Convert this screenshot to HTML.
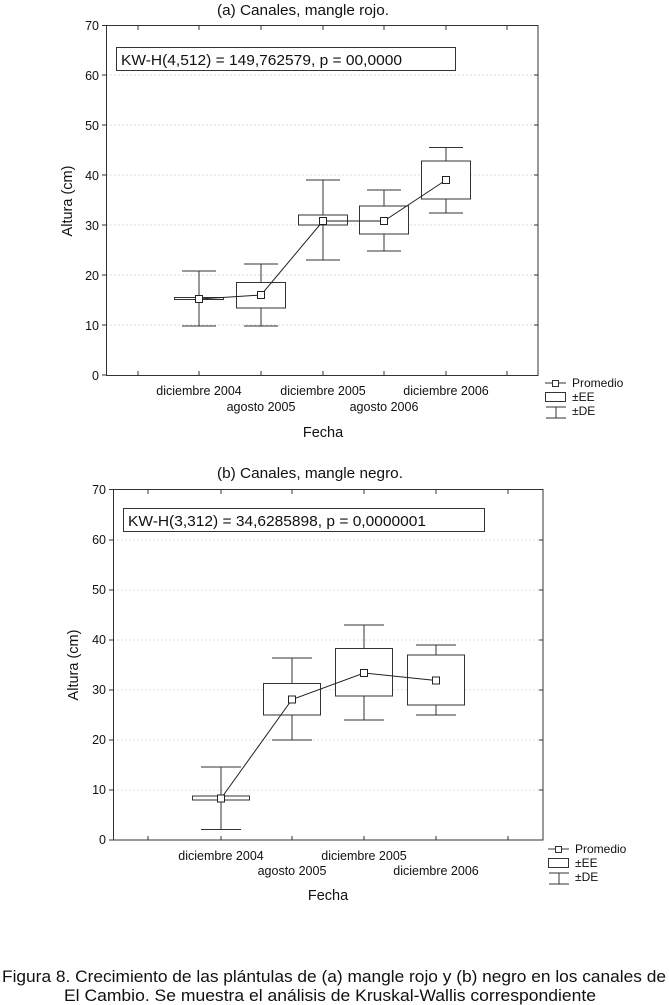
<!DOCTYPE html>
<html><head><meta charset="utf-8"><style>
html,body{margin:0;padding:0;background:#fff;}
svg{display:block;}
text{font-family:"Liberation Sans",Arial,sans-serif;fill:#111;}
</style></head><body>
<svg width="669" height="1005" viewBox="0 0 669 1005" xmlns="http://www.w3.org/2000/svg">
<!-- ===== Chart A ===== -->
<text x="217" y="15" font-size="14.5" textLength="172" lengthAdjust="spacingAndGlyphs">(a) Canales, mangle rojo.</text>
<g stroke="#ddd" stroke-dasharray="2,2" stroke-width="1">
<line x1="106" x2="538" y1="75" y2="75"/><line x1="106" x2="538" y1="125" y2="125"/><line x1="106" x2="538" y1="175" y2="175"/><line x1="106" x2="538" y1="225" y2="225"/><line x1="106" x2="538" y1="275" y2="275"/><line x1="106" x2="538" y1="325" y2="325"/>
</g>
<rect x="106.5" y="25.5" width="431.5" height="350" fill="none" stroke="#333" stroke-width="1"/>
<g stroke="#333" stroke-width="1">
<line x1="102" x2="106" y1="25.5" y2="25.5"/><line x1="102" x2="106" y1="75" y2="75"/><line x1="102" x2="106" y1="125" y2="125"/><line x1="102" x2="106" y1="175" y2="175"/><line x1="102" x2="106" y1="225" y2="225"/><line x1="102" x2="106" y1="275" y2="275"/><line x1="102" x2="106" y1="325" y2="325"/><line x1="102" x2="106" y1="375" y2="375"/>
<line x1="534" x2="538" y1="75" y2="75"/><line x1="534" x2="538" y1="125" y2="125"/><line x1="534" x2="538" y1="175" y2="175"/><line x1="534" x2="538" y1="225" y2="225"/><line x1="534" x2="538" y1="275" y2="275"/><line x1="534" x2="538" y1="325" y2="325"/>
<line x1="138" x2="138" y1="371" y2="375"/><line x1="199" x2="199" y1="371" y2="375"/><line x1="261" x2="261" y1="371" y2="375"/><line x1="323" x2="323" y1="371" y2="375"/><line x1="384" x2="384" y1="371" y2="375"/><line x1="446" x2="446" y1="371" y2="375"/><line x1="507" x2="507" y1="371" y2="375"/>
<line x1="138" x2="138" y1="26" y2="30"/><line x1="199" x2="199" y1="26" y2="30"/><line x1="261" x2="261" y1="26" y2="30"/><line x1="323" x2="323" y1="26" y2="30"/><line x1="384" x2="384" y1="26" y2="30"/><line x1="446" x2="446" y1="26" y2="30"/><line x1="507" x2="507" y1="26" y2="30"/>
</g>
<g font-size="12.5" text-anchor="end">
<text x="99" y="30">70</text><text x="99" y="80">60</text><text x="99" y="130">50</text><text x="99" y="180">40</text><text x="99" y="230">30</text><text x="99" y="280">20</text><text x="99" y="330">10</text><text x="99" y="380">0</text>
</g>
<text transform="translate(72,201) rotate(-90)" font-size="14.5" text-anchor="middle">Altura (cm)</text>
<rect x="116.5" y="47.5" width="339" height="23" fill="#fff" stroke="#333"/>
<text x="121" y="65" font-size="15" textLength="281" lengthAdjust="spacingAndGlyphs">KW-H(4,512) = 149,762579, p = 00,0000</text>
<g font-size="12.5" text-anchor="middle">
<text x="199" y="395">diciembre 2004</text><text x="323" y="395">diciembre 2005</text><text x="446" y="395">diciembre 2006</text>
<text x="261" y="411">agosto 2005</text><text x="384" y="411">agosto 2006</text>
</g>
<text x="323" y="437" font-size="14.5" text-anchor="middle">Fecha</text>
<g stroke="#333" stroke-width="1" fill="none">
<path d="M199 271V326M182 271H216M182 326H216"/>
<path d="M261 264V326M244 264H278M244 326H278"/>
<path d="M323 180V260M306 180H340M306 260H340"/>
<path d="M384 190V251M367 190H401M367 251H401"/>
<path d="M446 147.5V213M429 147.5H463M429 213H463"/>
</g>
<g stroke="#333" stroke-width="1" fill="#fff">
<rect x="174.5" y="297.5" width="49" height="2"/>
<rect x="236.5" y="282.5" width="49" height="25.5"/>
<rect x="298.5" y="215" width="49" height="10"/>
<rect x="359.5" y="206" width="49" height="28"/>
<rect x="421.5" y="161" width="49" height="38"/>
</g>
<polyline points="199,299 261,295 323,221 384,221 446,180" fill="none" stroke="#222" stroke-width="1"/>
<g stroke="#222" fill="#fff"><rect x="195.5" y="295.5" width="7" height="7"/><rect x="257.5" y="291.5" width="7" height="7"/><rect x="319.5" y="217.5" width="7" height="7"/><rect x="380.5" y="217.5" width="7" height="7"/><rect x="442.5" y="176.5" width="7" height="7"/></g>
<g stroke="#333" fill="none">
<line x1="545" x2="566" y1="383" y2="383"/><rect x="552.5" y="380.5" width="6" height="6" fill="#fff"/>
<rect x="545.5" y="392.5" width="20" height="9"/>
<path d="M546 407H566M556 407V418M546 418H566"/>
</g>
<g font-size="12"><text x="572" y="387">Promedio</text><text x="572" y="401">±EE</text><text x="572" y="415">±DE</text></g>

<!-- ===== Chart B ===== -->
<text x="217" y="478" font-size="14.5" textLength="186" lengthAdjust="spacingAndGlyphs">(b) Canales, mangle negro.</text>
<g stroke="#ddd" stroke-dasharray="2,2" stroke-width="1">
<line x1="113" x2="543" y1="540" y2="540"/><line x1="113" x2="543" y1="590" y2="590"/><line x1="113" x2="543" y1="640" y2="640"/><line x1="113" x2="543" y1="690" y2="690"/><line x1="113" x2="543" y1="740" y2="740"/><line x1="113" x2="543" y1="790" y2="790"/>
</g>
<rect x="113.5" y="489.5" width="429.5" height="350.5" fill="none" stroke="#333"/>
<g stroke="#333">
<line x1="109" x2="113" y1="489.5" y2="489.5"/><line x1="109" x2="113" y1="540" y2="540"/><line x1="109" x2="113" y1="590" y2="590"/><line x1="109" x2="113" y1="640" y2="640"/><line x1="109" x2="113" y1="690" y2="690"/><line x1="109" x2="113" y1="740" y2="740"/><line x1="109" x2="113" y1="790" y2="790"/><line x1="109" x2="113" y1="840" y2="840"/>
<line x1="539" x2="543" y1="540" y2="540"/><line x1="539" x2="543" y1="590" y2="590"/><line x1="539" x2="543" y1="640" y2="640"/><line x1="539" x2="543" y1="690" y2="690"/><line x1="539" x2="543" y1="740" y2="740"/><line x1="539" x2="543" y1="790" y2="790"/>
<line x1="148" x2="148" y1="836" y2="840"/><line x1="221" x2="221" y1="836" y2="840"/><line x1="292" x2="292" y1="836" y2="840"/><line x1="364" x2="364" y1="836" y2="840"/><line x1="436" x2="436" y1="836" y2="840"/><line x1="508" x2="508" y1="836" y2="840"/>
<line x1="148" x2="148" y1="490" y2="494"/><line x1="221" x2="221" y1="490" y2="494"/><line x1="292" x2="292" y1="490" y2="494"/><line x1="364" x2="364" y1="490" y2="494"/><line x1="436" x2="436" y1="490" y2="494"/><line x1="508" x2="508" y1="490" y2="494"/>
</g>
<g font-size="12.5" text-anchor="end">
<text x="106" y="494">70</text><text x="106" y="544">60</text><text x="106" y="594">50</text><text x="106" y="644">40</text><text x="106" y="694">30</text><text x="106" y="744">20</text><text x="106" y="794">10</text><text x="106" y="844">0</text>
</g>
<text transform="translate(78,665) rotate(-90)" font-size="14.5" text-anchor="middle">Altura (cm)</text>
<rect x="123.5" y="508.5" width="361" height="23" fill="#fff" stroke="#333"/>
<text x="128" y="526" font-size="15" textLength="298" lengthAdjust="spacingAndGlyphs">KW-H(3,312) = 34,6285898, p = 0,0000001</text>
<g font-size="12.5" text-anchor="middle">
<text x="221" y="860">diciembre 2004</text><text x="364" y="860">diciembre 2005</text>
<text x="292" y="875">agosto 2005</text><text x="436" y="875">diciembre 2006</text>
</g>
<text x="328" y="900" font-size="14.5" text-anchor="middle">Fecha</text>
<g stroke="#333" fill="none">
<path d="M221 767V829.5M201 767H241M201 829.5H241"/>
<path d="M292 658V740M272 658H312M272 740H312"/>
<path d="M364 625V720M344 625H384M344 720H384"/>
<path d="M436 645V715M416 645H456M416 715H456"/>
</g>
<g stroke="#333" fill="#fff">
<rect x="192.5" y="796" width="57" height="4"/>
<rect x="263.5" y="683.5" width="57" height="31.5"/>
<rect x="335.5" y="648.5" width="57" height="47.5"/>
<rect x="407.5" y="655" width="57" height="50"/>
</g>
<polyline points="221,798.5 292,699.5 364,673 436,680.5" fill="none" stroke="#222"/>
<g stroke="#222" fill="#fff"><rect x="217.5" y="795" width="7" height="7"/><rect x="288.5" y="696" width="7" height="7"/><rect x="360.5" y="669.5" width="7" height="7"/><rect x="432.5" y="677" width="7" height="7"/></g>
<g stroke="#333" fill="none">
<line x1="548" x2="569" y1="849" y2="849"/><rect x="555.5" y="846.5" width="6" height="6" fill="#fff"/>
<rect x="548.5" y="858.5" width="20" height="9"/>
<path d="M549 873H569M559 873V884M549 884H569"/>
</g>
<g font-size="12"><text x="575" y="853">Promedio</text><text x="575" y="867">±EE</text><text x="575" y="881">±DE</text></g>

<!-- caption -->
<text x="2" y="982" font-size="17" textLength="664" lengthAdjust="spacingAndGlyphs">Figura 8. Crecimiento de las plántulas de (a) mangle rojo y (b) negro en los canales de</text>
<text x="64" y="1001" font-size="17" textLength="532" lengthAdjust="spacingAndGlyphs">El Cambio. Se muestra el análisis de Kruskal-Wallis correspondiente</text>
</svg>
</body></html>
